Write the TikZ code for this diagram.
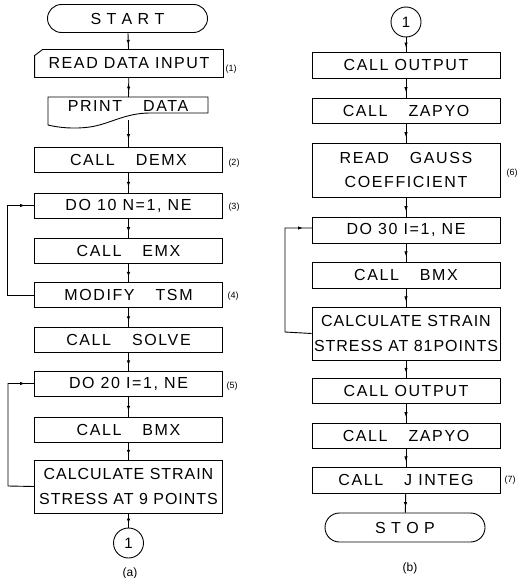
\documentclass[tikz,border=0pt]{standalone}
\usepackage{fontspec}
\setmainfont{Liberation Sans}
\newfontfamily\flowfont[LetterSpace=10]{Liberation Sans}
\newfontfamily\flowtwo[LetterSpace=6]{Liberation Sans}
\newcommand{\wg}{\hspace{21pt}}
\usetikzlibrary{arrows.meta,decorations.markings,shapes.misc}
\begin{document}
\begin{tikzpicture}[x=1pt,y=-1pt,line width=0.9pt,
  txt/.style={font=\flowfont\fontsize{16}{24}\selectfont,align=center,inner sep=0pt},
  box/.style={txt,draw,minimum width=188pt,minimum height=25pt},
  twobox/.style={box,font=\flowtwo\fontsize{16}{25}\selectfont,minimum height=53pt},
  term/.style={txt,draw,rounded rectangle,minimum width=160pt,minimum height=28pt},
  conn/.style={txt,draw,circle,minimum size=30pt,font=\fontsize{15}{18}\selectfont},
  tag/.style={font=\fontsize{9}{10}\selectfont,inner sep=0pt},
  captxt/.style={font=\fontsize{12}{14}\selectfont,inner sep=0pt},
  flow/.style={postaction={decorate},decoration={markings,
    mark=at position 0.72 with {\arrow{Latex[length=5pt,width=3.5pt]}}}},
  loopflow/.style={postaction={decorate},decoration={markings,
    mark=at position -9pt with {\arrow{Latex[length=5pt,width=3.5pt]}}}}]
\useasboundingbox (0,0) rectangle (527,578);
% ---------- left column (a)
\node[term] (start) at (127.5,18.5) {S\,\,T\,\,A\,\,R\,\,T};
\node[txt,minimum width=188pt,minimum height=27pt] (read) at (129,63.5) {READ DATA INPUT};
\draw ([xshift=8pt]read.north west) -- (read.north east) -- (read.south east)
  -- (read.south west) -- ([yshift=-6pt]read.north west) -- cycle;
\node[tag] (t1) at (231,69) {(1)};
\node[txt] (print) at (128,106) {PRINT\wg DATA};
\draw (48,97) -- (208,97) -- (208,113) -- (150,113)
  .. controls (125,113) and (110,124) .. (90,127)
  .. controls (75,129) and (60,128) .. (48,125) -- cycle;
\coordinate (pb) at (128.5,120);
\coordinate (pt) at (128.5,97);
\node[box] (demx) at (128.5,159.5) {CALL\wg DEMX};
\node[tag] (t2) at (234,163) {(2)};
\node[box] (do10) at (128.5,205.5) {DO 10 N=1, NE};
\node[tag] (t3) at (234,207) {(3)};
\node[box] (emx) at (128.5,250.5) {CALL\wg EMX};
\node[box] (modify) at (128.5,295) {MODIFY\wg TSM};
\node[tag] (t4) at (233,296) {(4)};
\node[box] (solve) at (128.5,339.5) {CALL\wg SOLVE};
\node[box] (do20) at (128.5,383.5) {DO 20 I=1, NE};
\node[tag] (t5) at (232,386) {(5)};
\node[box] (bmx) at (128.5,429.5) {CALL\wg BMX};
\node[twobox] (calc) at (128.5,486.5) {CALCULATE STRAIN\\STRESS AT 9 POINTS};
\node[conn] (c1) at (128.5,543) {1};
\node[captxt] (capa) at (130,573) {(a)};
\draw[flow] (start) -- (read);
\draw[flow] (read) -- (pt);
\draw[flow] (pb) -- (demx);
\draw[flow] (demx) -- (do10);
\draw[flow] (do10) -- (emx);
\draw[flow] (emx) -- (modify);
\draw[flow] (modify) -- (solve);
\draw[flow] (solve) -- (do20);
\draw[flow] (do20) -- (bmx);
\draw[flow] (bmx) -- (calc);
\draw[flow] (calc) -- (c1);
\draw[loopflow] (modify.west) -- (7,295) -- (7,205.5) -- (do10.west);
\draw[loopflow] (calc.west) -- (8,486) -- (8,383.5) -- (do20.west);
% ---------- right column (b)
\node[conn] (c2) at (406,22) {1};
\node[box,minimum height=26pt] (out1) at (406,65) {CALL OUTPUT};
\node[box] (zap1) at (406,110.5) {CALL\wg ZAPYO};
\node[box,minimum height=54pt] (gauss) at (406,170) {READ\wg GAUSS\\COEFFICIENT};
\node[tag] (t6) at (512,173) {(6)};
\node[box,minimum height=26pt] (do30) at (406,230) {DO 30 I=1, NE};
\node[box,minimum height=26pt] (bmx2) at (406,275) {CALL\wg BMX};
\node[twobox] (calc2) at (406,333.5) {CALCULATE STRAIN\\STRESS AT 81POINTS};
\node[box] (out2) at (406,390.5) {CALL OUTPUT};
\node[box] (zap2) at (406,435.5) {CALL\wg ZAPYO};
\node[box,minimum height=26pt] (jint) at (406,480) {CALL\wg J INTEG};
\node[tag] (t7) at (510,480) {(7)};
\node[term,minimum height=29pt] (stop) at (405,527.5) {S\,\,T\,\,O\,\,P};
\node[captxt] (capb) at (410,568) {(b)};
\draw[flow] (c2) -- (out1);
\draw[flow] (out1) -- (zap1);
\draw[flow] (zap1) -- (gauss);
\draw[flow] (gauss) -- (do30);
\draw[flow] (do30) -- (bmx2);
\draw[flow] (bmx2) -- (calc2);
\draw[flow] (calc2) -- (out2);
\draw[flow] (out2) -- (zap2);
\draw[flow] (zap2) -- (jint);
\draw[flow] (jint) -- (stop);
\coordinate (d30w) at (312,228);
\draw[loopflow] (calc2.west) -- (285,332) -- (285,228) -- (d30w);
\end{tikzpicture}
\end{document}
